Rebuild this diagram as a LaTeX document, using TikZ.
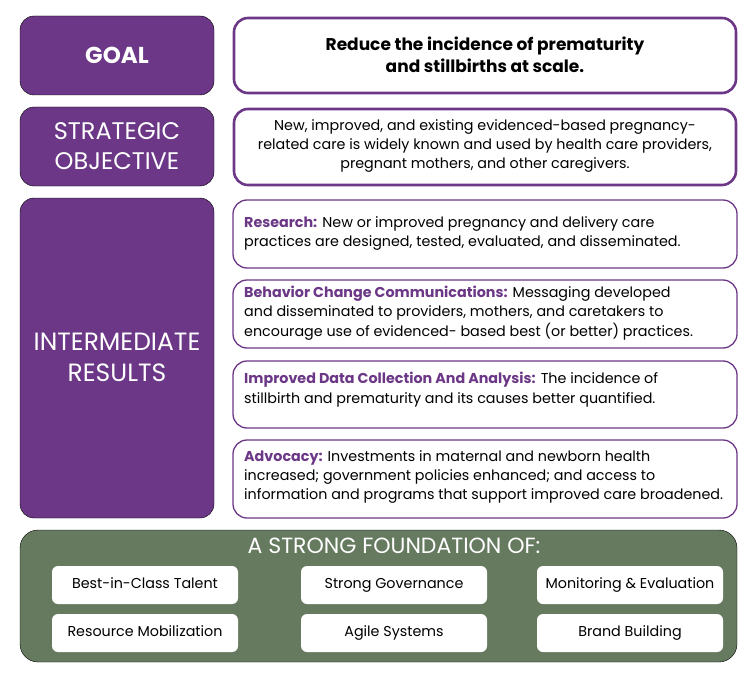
\documentclass[tikz,border=0pt]{standalone}
\usepackage{fontspec}
\setmainfont{Poppins}
\definecolor{pur}{HTML}{6B3786}
\definecolor{grn}{HTML}{667A60}
\begin{document}
\begin{tikzpicture}[x=1pt,y=-1pt,
  lab/.style={fill=pur,rounded corners=14pt,text=white,align=center},
  bigbox/.style={fill=white,draw=pur,line width=2.6pt,rounded corners=14pt,align=center},
  irbox/.style={fill=white,draw=pur,line width=1.3pt,rounded corners=14pt},
  irtext/.style={anchor=west,align=left,font=\fontsize{14.3}{19.3}\selectfont,inner sep=0pt},
  fbox/.style={fill=white,rounded corners=6pt,minimum width=186pt,minimum height=38pt,font=\fontsize{14.3}{16}\selectfont,inner sep=0pt,text height=10.5pt,text depth=3pt},
  hd/.style={text=pur,font=\bfseries}]
\useasboundingbox (0,0) rectangle (752,674);
% left labels
\draw[lab] (20,16) rectangle (214,95);
\node[text=white,font=\bfseries\fontsize{23}{26}\selectfont] (goal) at (117,55) {GOAL};
\draw[lab] (20,107) rectangle (214,186);
\node[text=white,align=center,font=\fontsize{24}{30}\selectfont] (so) at (117,146) {STRATEGIC\\OBJECTIVE};
\draw[lab] (20,198) rectangle (214,518);
\node[text=white,align=center,font=\fontsize{25}{31}\selectfont] (ir) at (117,357) {INTERMEDIATE\\RESULTS};
% right boxes
\draw[bigbox] (234,18) rectangle (736,93);
\node[align=center,font=\bfseries\fontsize{17}{22}\selectfont] (goalt) at (485,55) {Reduce the incidence of prematurity\\and stillbirths at scale.};
\draw[bigbox] (234,109) rectangle (736,185);
\node[align=center,font=\fontsize{14.3}{19}\selectfont] (sot) at (485,146) {New, improved, and existing evidenced-based pregnancy-\\related care is widely known and used by health care providers,\\pregnant mothers, and other caregivers.};
\draw[irbox] (233,200) rectangle (737,268);
\node[irtext] (r1) at (244,233.5) {{\color{pur}\bfseries Research:} New or improved pregnancy and delivery care\\practices are designed, tested, evaluated, and disseminated.};
\draw[irbox] (233,280) rectangle (737,348);
\node[irtext] (r2) at (244,313) {{\color{pur}\bfseries Behavior Change Communications:} Messaging developed\\and disseminated to providers, mothers, and caretakers to\\encourage use of evidenced- based best (or better) practices.};
\draw[irbox] (233,361) rectangle (737,428);
\node[irtext] (r3) at (244,389.5) {{\color{pur}\bfseries Improved Data Collection And Analysis:} The incidence of\\stillbirth and prematurity and its causes better quantified.};
\draw[irbox] (233,440) rectangle (737,518);
\node[irtext] (r4) at (244,477) {{\color{pur}\bfseries Advocacy:} Investments in maternal and newborn health\\increased; government policies enhanced; and access to\\information and programs that support improved care broadened.};
% foundation
\draw[fill=grn,rounded corners=18pt] (20,530) rectangle (737,662);
\node[text=white,font=\fontsize{22}{26}\selectfont] (ft) at (394,546) {A STRONG FOUNDATION OF:};
\node[fbox] (f1) at (145,585) {Best-in-Class Talent};
\node[fbox] (f2) at (394,585) {Strong Governance};
\node[fbox] (f3) at (630,585) {Monitoring \& Evaluation};
\node[fbox] (f4) at (145,633) {Resource Mobilization};
\node[fbox] (f5) at (394,633) {Agile Systems};
\node[fbox] (f6) at (630,633) {Brand Building};
\end{tikzpicture}
\end{document}
